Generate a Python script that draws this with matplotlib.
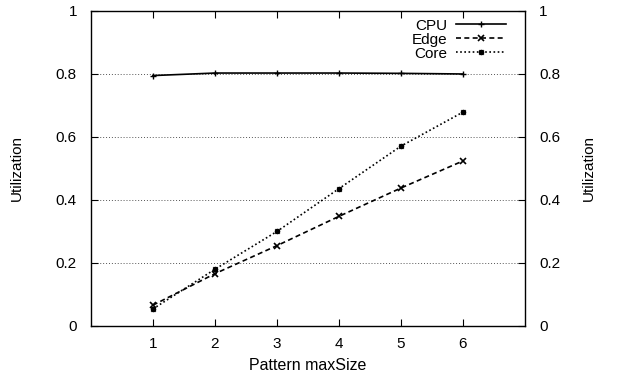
import matplotlib
matplotlib.use("Agg")
import matplotlib.pyplot as plt
from matplotlib.path import Path
from matplotlib.markers import MarkerStyle

plt.rcParams['font.family'] = ['Liberation Sans', 'DejaVu Sans']

sizes = [1, 2, 3, 4, 5, 6]
cpu = [0.795, 0.803, 0.803, 0.803, 0.802, 0.800]
edge = [0.066, 0.166, 0.255, 0.348, 0.438, 0.524]
core = [0.054, 0.180, 0.300, 0.436, 0.571, 0.679]

x_ticks = [1, 2, 3, 4, 5, 6]
y_ticks = [0, 0.2, 0.4, 0.6, 0.8, 1]
y_tick_labels = ['0', '0.2', '0.4', '0.6', '0.8', '1']

# asterisk marker: plus combined with a cross
verts = [(-1, 0), (1, 0), (0, -1), (0, 1),
         (-0.8, -0.8), (0.8, 0.8), (-0.8, 0.8), (0.8, -0.8)]
codes = [Path.MOVETO, Path.LINETO] * 4
star = MarkerStyle(Path(verts, codes))

fig = plt.figure(figsize=(6.18, 3.75), dpi=100)
ax = fig.add_axes([0.147, 0.1307, 0.7025, 0.84])

ax.plot(sizes, cpu, color='black', lw=1.2, marker='+', ms=5, mew=1.0, label='CPU')
ax.plot(sizes, edge, color='black', lw=1.2, ls=(0, (3, 2)), marker='x', ms=4, mew=1.2, label='Edge')
ax.plot(sizes, core, color='black', lw=1.2, ls=(0, (1, 1.5)), marker=star, ms=4, mew=1.2, label='Core')

ax.set_xlim(0, 7)
ax.set_ylim(0, 1)
ax.set_xticks(x_ticks)
ax.set_yticks(y_ticks)
ax.set_yticklabels(y_tick_labels)

ax.yaxis.grid(True, ls=(0, (1, 2)), lw=0.7, color='#555555')
ax.set_axisbelow(True)

ax.tick_params(direction='in', length=5, width=0.8, top=True, right=True,
               labelsize=11, labelright=True)
ax.tick_params(axis='y', pad=10)
ax.tick_params(axis='x', pad=8)

for s in ax.spines.values():
    s.set_linewidth(1.0)

ax.set_xlabel('Pattern maxSize', fontsize=11.5, labelpad=5)
ax.set_ylabel('Utilization', fontsize=11, labelpad=23)
ax2 = ax.secondary_yaxis('right')
ax2.set_yticks([])
ax2.set_ylabel('Utilization', fontsize=11, labelpad=41)
ax2.spines['right'].set_visible(False)

leg = ax.legend(loc='upper right', frameon=False, markerfirst=False, fontsize=11,
                handlelength=3.3, handletextpad=0.6, labelspacing=0.0,
                borderaxespad=0.1, bbox_to_anchor=(0.975, 1.0))

fig.savefig('out.png', dpi=100)
